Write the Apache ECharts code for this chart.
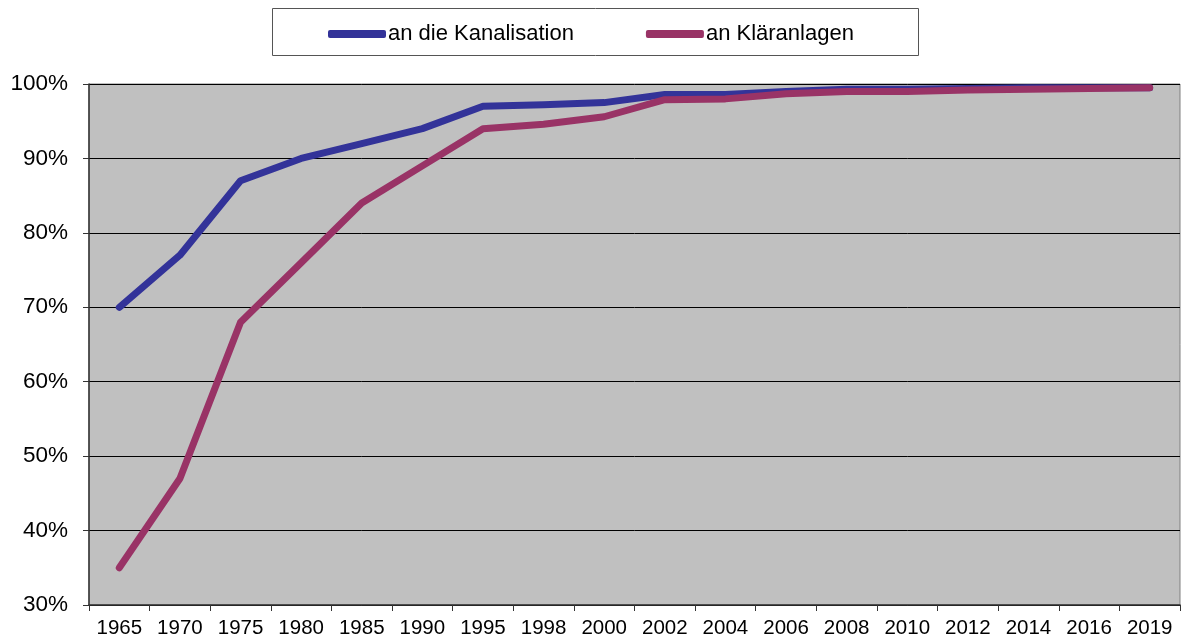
<!DOCTYPE html>
<html>
<head>
<meta charset="utf-8">
<script src="https://cdn.jsdelivr.net/npm/echarts@6/dist/echarts.min.js"></script>
<style>html,body{margin:0;padding:0;background:#fff}#c{width:1182px;height:641px}</style>
</head>
<body>
<div id="c"></div>
<script>
const years = ['1965','1970','1975','1980','1985','1990','1995','1998','2000','2002','2004','2006','2008','2010','2012','2014','2016','2019'];
const kanalisation = [70, 77, 87, 90, 92, 94, 97, 97.2, 97.5, 98.6, 98.6, 99.0, 99.3, 99.3, 99.4, 99.5, 99.5, 99.5];
const klaeranlagen = [35, 47, 68, 76, 84, 89, 94, 94.6, 95.6, 97.9, 98.0, 98.7, 99.0, 99.0, 99.2, 99.3, 99.4, 99.5];
const seriesNames = ['an die Kanalisation', 'an Kläranlagen'];

const font = 'Liberation Sans, Arial, sans-serif';
const chart = echarts.init(document.getElementById('c'));
chart.setOption({
  animation: false,
  graphic: [{
    type: 'rect', left: 272, top: 8, z: 0,
    shape: { width: 646, height: 47 },
    style: { fill: '#fff', stroke: '#555', lineWidth: 1 }
  }],
  legend: {
    left: 323, top: 18,
    itemWidth: 58, itemHeight: 8, itemGap: 72,
    icon: 'roundRect',
    textStyle: { fontFamily: font, fontSize: 22, color: '#000', padding: [0, 0, 0, -3] },
    data: seriesNames
  },
  grid: {
    left: 89, right: 2, top: 84, bottom: 36,
    show: true, backgroundColor: '#c0c0c0', borderColor: '#808080', borderWidth: 1
  },
  xAxis: {
    type: 'category', data: years, boundaryGap: true,
    axisLine: { lineStyle: { color: '#333', width: 1.5 } },
    axisTick: { show: true, length: 6, lineStyle: { color: '#333' } },
    axisLabel: { fontFamily: font, fontSize: 20.5, color: '#000', margin: 13, interval: 0 }
  },
  yAxis: {
    type: 'value', min: 30, max: 100, interval: 10,
    axisLine: { show: true, lineStyle: { color: '#333', width: 1.5 } },
    axisTick: { show: true, length: 6, lineStyle: { color: '#333' } },
    axisLabel: { fontFamily: font, fontSize: 22.5, color: '#000', margin: 21, formatter: '{value}%' },
    splitLine: { show: true, lineStyle: { color: '#000', width: 1 } }
  },
  series: [
    {
      name: seriesNames[0], type: 'line', data: kanalisation,
      symbol: 'none', color: '#333399',
      lineStyle: { width: 7, color: '#333399', cap: 'round', join: 'round' }
    },
    {
      name: seriesNames[1], type: 'line', data: klaeranlagen,
      symbol: 'none', color: '#993366',
      lineStyle: { width: 7, color: '#993366', cap: 'round', join: 'round' }
    }
  ]
});
</script>
</body>
</html>
